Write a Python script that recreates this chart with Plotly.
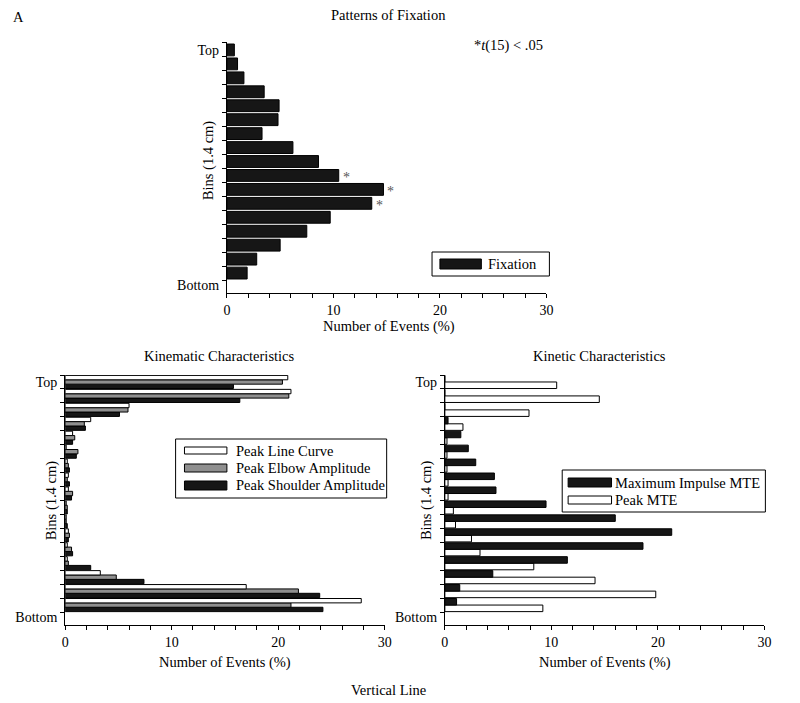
import plotly.graph_objects as go

# ---------------- data (bins listed bottom -> top) ----------------
bins = list(range(1, 18))
y_tick_text = ["Bottom", "Top"]
x_tick_vals = [0, 10, 20, 30]

fixation = [1.9, 2.8, 5.0, 7.5, 9.7, 13.6, 14.7, 10.5, 8.6, 6.2, 3.3, 4.8, 4.9, 3.5, 1.6, 1.0, 0.7]
fixation_sig = [False, False, False, False, False, True, True, True, False, False, False, False, False, False, False, False, False]

peak_line_curve = [27.8, 17.0, 3.3, 0.2, 0.2, 0.3, 0.1, 0.1, 0.3, 0.3, 0.2, 0.1, 0.7, 2.4, 6.0, 21.2, 20.9]
peak_elbow = [21.2, 21.9, 4.8, 0.3, 0.6, 0.4, 0.1, 0.2, 0.7, 0.2, 0.3, 1.2, 0.9, 1.8, 5.9, 21.0, 20.4]
peak_shoulder = [24.2, 23.9, 7.4, 2.4, 0.7, 0.3, 0.2, 0.2, 0.6, 0.4, 0.4, 1.05, 0.7, 1.9, 5.1, 16.4, 15.8]

max_impulse_mte = [1.1, 1.4, 4.5, 11.5, 18.6, 21.3, 16.0, 9.5, 4.8, 4.65, 2.9, 2.2, 1.5, 0.3, 0, 0, 0]
peak_mte = [9.2, 19.8, 14.1, 8.35, 3.3, 2.5, 1.0, 0.8, 0.3, 0.3, 0.2, 0.2, 0.2, 1.7, 7.9, 14.5, 10.5]

# ---------------- styling ----------------
W, H = 800, 703
FONT = "Liberation Serif"
FS = 14.5
TFS = 14
BLACK = "#161616"
GRAY = "#8f8f8f"
WHITE = "#ffffff"


def px(x):
    return x / W


def py(y):
    return 1 - y / H


fig = go.Figure()

# top chart
fig.add_trace(go.Bar(x=fixation, y=bins, orientation="h", width=0.85,
                     marker=dict(color=BLACK, line=dict(color="black", width=1)),
                     xaxis="x", yaxis="y", showlegend=False))

# bottom-left (first trace sits at the bottom of each group)
for vals, col in [(peak_shoulder, BLACK), (peak_elbow, GRAY), (peak_line_curve, WHITE)]:
    fig.add_trace(go.Bar(x=vals, y=bins, orientation="h",
                         marker=dict(color=col, line=dict(color="black", width=1)),
                         xaxis="x2", yaxis="y2", showlegend=False, offsetgroup=col + "L"))

# bottom-right
for vals, col in [(peak_mte, WHITE), (max_impulse_mte, BLACK)]:
    fig.add_trace(go.Bar(x=vals, y=bins, orientation="h",
                         marker=dict(color=col, line=dict(color="black", width=1)),
                         xaxis="x3", yaxis="y3", showlegend=False, offsetgroup=col + "R"))


def xaxis(domain, anchor):
    return dict(domain=domain, anchor=anchor, range=[0, 30], tickvals=x_tick_vals,
                ticks="outside", ticklen=4, tickwidth=1, tickcolor="black",
                minor=dict(dtick=2, tick0=0, ticks="outside", ticklen=4, tickcolor="black"),
                showline=True, linecolor="black", linewidth=1, showgrid=False, zeroline=False,
                tickfont=dict(family=FONT, size=TFS, color="black"), fixedrange=True)


def yaxis(domain, anchor, rng):
    return dict(domain=domain, anchor=anchor, range=rng, tickvals=[0.15, 17], ticktext=y_tick_text,
                ticks="", ticklabelstandoff=4,
                minor=dict(tickvals=[b + 0.5 for b in range(0, 18)], ticks="outside", ticklen=4,
                           tickcolor="black"),
                showline=True, linecolor="black", linewidth=1, showgrid=False, zeroline=False,
                tickfont=dict(family=FONT, size=TFS, color="black"), fixedrange=True)


top_y = [py(293), py(42)]
bot_y = [py(625), py(375)]

annotations = []


def text(x, y, s, size=FS, angle=0, xanchor="center", yanchor="middle", color="black"):
    annotations.append(dict(x=px(x), y=py(y), xref="paper", yref="paper", text=s, showarrow=False,
                            textangle=angle, xanchor=xanchor, yanchor=yanchor,
                            font=dict(family=FONT, size=size, color=color)))


text(15, 17, "A")
text(390, 15, "Patterns of Fixation")
text(512, 46, "*<i>t</i>(15) &lt; .05")
text(207, 160, "Bins (1.4 cm)", angle=-90)
text(390, 326, "Number of Events (%)")

text(218, 356, "Kinematic Characteristics")
text(604, 356, "Kinetic Characteristics")
text(48, 500, "Bins (1.4 cm)", angle=-90)
text(428, 500, "Bins (1.4 cm)", angle=-90)
text(224, 662, "Number of Events (%)")
text(609, 662, "Number of Events (%)")
text(390, 690, "Vertical Line")

# significance asterisks beside bars
for b, v, s in zip(bins, fixation, fixation_sig):
    if s:
        annotations.append(dict(x=v, y=b, xref="x", yref="y", text="*", showarrow=False,
                                xanchor="left", yanchor="middle", xshift=2, yshift=-2,
                                font=dict(family=FONT, size=14, color="#555555")))

shapes = []


def rect(x0, y0, x1, y1, fill, lw=1):
    shapes.append(dict(type="rect", xref="paper", yref="paper", x0=px(x0), x1=px(x1),
                       y0=py(y1), y1=py(y0), fillcolor=fill, line=dict(color="black", width=lw)))


# legend: top chart
rect(434, 252, 553, 276, "rgba(0,0,0,0)")
rect(442, 259, 484, 269, BLACK)
text(489, 264, "Fixation", xanchor="left")

# legend: bottom-left
rect(174, 439, 388, 498, "rgba(0,0,0,0)")
rect(183, 447, 226, 454, WHITE)
rect(183, 464, 226, 472, GRAY)
rect(183, 481, 226, 490, BLACK)
text(233, 451, "Peak Line Curve", xanchor="left")
text(233, 468, "Peak Elbow Amplitude", xanchor="left")
text(233, 485, "Peak Shoulder Amplitude", xanchor="left")

# legend: bottom-right
rect(566, 470, 772, 512, "rgba(0,0,0,0)")
rect(572, 478, 616, 487, BLACK)
rect(572, 496, 616, 504, WHITE)
text(617, 483, "Maximum Impulse MTE", xanchor="left")
text(617, 500, "Peak MTE", xanchor="left")

fig.update_layout(
    width=W, height=H,
    margin=dict(l=0, r=0, t=0, b=0),
    paper_bgcolor="white", plot_bgcolor="white",
    barmode="group", bargap=0.06, bargroupgap=0,
    showlegend=False,
    font=dict(family=FONT, size=FS, color="black"),
    xaxis=xaxis([px(226), px(550)], "y"),
    yaxis=yaxis(top_y, "x", [-0.43, 17.57]),
    xaxis2=xaxis([px(62), px(386)], "y2"),
    yaxis2=yaxis(bot_y, "x2", [-0.43, 17.5]),
    xaxis3=xaxis([px(447), px(771)], "y3"),
    yaxis3=yaxis(bot_y, "x3", [-0.43, 17.5]),
    annotations=annotations,
    shapes=shapes,
)

fig.write_html(
    "out.html",
    config={"displayModeBar": False},
    post_script="document.body.style.margin='0px';document.body.style.padding='0px';"
                "document.body.style.overflow='hidden';",
)
